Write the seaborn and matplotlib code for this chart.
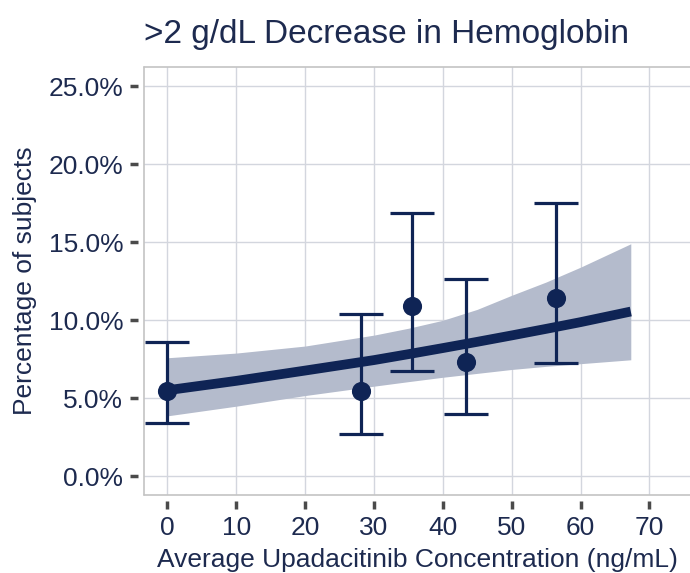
import matplotlib
matplotlib.use("Agg")
import matplotlib.pyplot as plt
from matplotlib.lines import Line2D
from matplotlib.ticker import PercentFormatter
import seaborn as sns
import pandas as pd

# Observed incidence by concentration bin (percent of subjects, 95% CI)
obs_conc = [0.0, 28.1, 35.5, 43.3, 56.5]
obs_pct = [5.50, 5.45, 10.90, 7.30, 11.45]
obs_lo = [3.42, 2.70, 6.77, 4.00, 7.24]
obs_hi = [8.58, 10.40, 16.90, 12.64, 17.54]

# Model-predicted probability with 95% prediction interval
fit_conc = [0.0, 10.0, 20.0, 30.0, 35.0, 40.0, 45.0, 50.0, 55.0, 60.0, 67.3]
fit_pct = [5.52, 6.12, 6.78, 7.45, 7.83, 8.22, 8.62, 9.03, 9.45, 9.88, 10.56]
fit_lo = [3.88, 4.50, 5.18, 5.78, 6.07, 6.35, 6.60, 6.85, 7.05, 7.22, 7.47]
fit_hi = [7.60, 7.90, 8.35, 9.05, 9.49, 10.00, 10.70, 11.60, 12.45, 13.40, 14.90]

x_ticks = [0, 10, 20, 30, 40, 50, 60, 70]
y_ticks = [0, 5, 10, 15, 20, 25]

title = ">2 g/dL Decrease in Hemoglobin"
x_label = "Average Upadacitinib Concentration (ng/mL)"
y_label = "Percentage of subjects"

navy = "#0f2455"
text_col = "#1d2a4f"
band_col = "#b4bbcc"
grid_col = "#d3d6de"
frame_col = "#c4c4c4"
tick_col = "#4a4a4a"

sns.set_theme(style="white")
plt.rcParams["font.family"] = ["Liberation Sans", "DejaVu Sans"]

obs = pd.DataFrame({"conc": obs_conc, "pct": obs_pct, "lo": obs_lo, "hi": obs_hi})
fit = pd.DataFrame({"conc": fit_conc, "pct": fit_pct, "lo": fit_lo, "hi": fit_hi})

fig = plt.figure(figsize=(6.9, 5.73), dpi=100)
ax = fig.add_axes([0.2087, 0.1361, 0.7913, 0.7470])

ax.fill_between(fit["conc"], fit["lo"], fit["hi"], color=band_col, lw=0, zorder=2)
sns.lineplot(data=fit, x="conc", y="pct", ax=ax, color=navy, lw=7,
             solid_capstyle="butt", zorder=3)
ax.errorbar(obs["conc"], obs["pct"],
            yerr=[obs["pct"] - obs["lo"], obs["hi"] - obs["pct"]],
            fmt="none", ecolor=navy, elinewidth=2.3, capsize=16, capthick=2.3,
            zorder=4)
sns.scatterplot(data=obs, x="conc", y="pct", ax=ax, color=navy, s=190,
                edgecolor=navy, linewidth=0, zorder=5)

ax.set_xlim(-3.41, 75.9)
ax.set_ylim(-1.19, 26.22)
ax.set_xticks(x_ticks)
ax.set_yticks(y_ticks)
ax.yaxis.set_major_formatter(PercentFormatter(decimals=1))

ax.grid(True, color=grid_col, lw=1.0, zorder=0)
ax.set_axisbelow(True)

# Ticks sit slightly away from the panel border
for side in ("left", "bottom"):
    ax.spines[side].set_position(("outward", 4))
    ax.spines[side].set_visible(False)
for side in ("top", "right"):
    ax.spines[side].set_visible(False)
for xs, ys in (([0, 0], [0, 1]), ([0, 1], [0, 0]), ([0, 1], [1, 1])):
    ax.add_line(Line2D(xs, ys, transform=ax.transAxes, color=frame_col,
                       lw=1.2, clip_on=False, zorder=1))

ax.tick_params(axis="both", which="major", direction="out", length=6,
               width=2.5, color=tick_col, labelsize=19, labelcolor=text_col,
               left=True, bottom=True, pad=5)

ax.set_xlabel(x_label, fontsize=19, color=text_col, labelpad=6)
ax.set_ylabel(y_label, fontsize=19, color=text_col, labelpad=8)
ax.set_title(title, loc="left", fontsize=24, color=text_col, pad=17)

fig.savefig("out.png", dpi=100)
